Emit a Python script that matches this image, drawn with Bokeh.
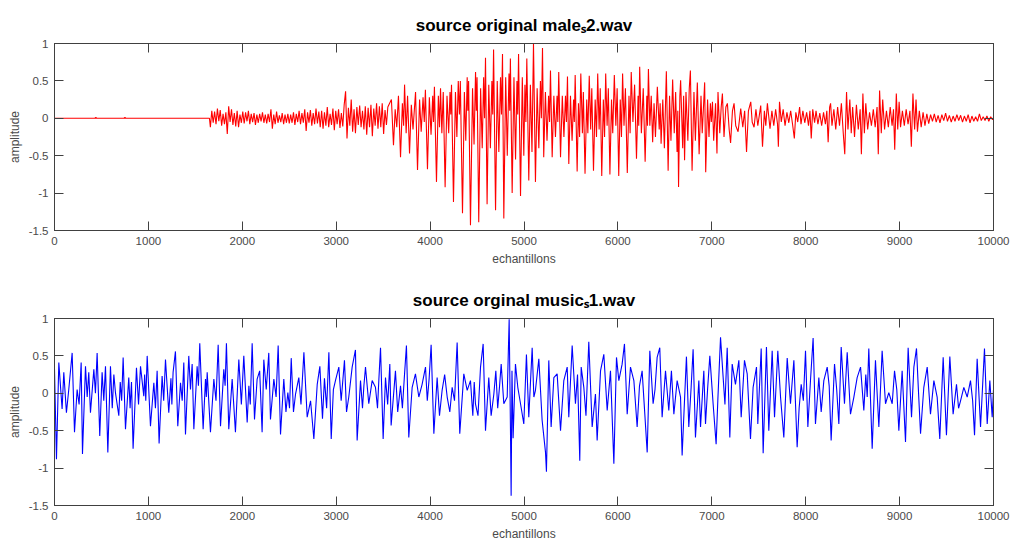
from bokeh.plotting import figure
from bokeh.models import Range1d, LinearAxis, FixedTicker
from bokeh.layouts import column
from bokeh.embed import file_html
from bokeh.resources import INLINE

# ---------------- data: male speech (top) ----------------
silence_x = [0, 430, 440, 450, 740, 750, 760, 1650]
silence_y = [0, 0, 0.01, 0, 0, 0.01, 0, 0]

# unvoiced background, one value every 15 samples from 1660 to 3550
noise_x = list(range(1660, 3551, 15))
noise_y = [-0.12, 0.10, -0.06, 0.09, -0.08, 0.13, -0.04, 0.11, -0.10, 0.06,
           -0.08, 0.08, -0.21, 0.16, -0.05, 0.12, -0.09, 0.07, -0.11, 0.10,
           -0.12, 0.05, -0.06, 0.09, -0.07, 0.08, -0.04, 0.10, -0.08, 0.06,
           -0.05, 0.07, -0.09, 0.05, -0.06, 0.06, -0.04, 0.08, -0.06, 0.05,
           -0.07, 0.06, -0.05, 0.12, -0.14, 0.05, -0.08, 0.09, -0.06, 0.04,
           -0.05, 0.07, -0.08, 0.05, -0.06, 0.06, -0.07, 0.05, -0.06, 0.08,
           -0.09, 0.06, -0.05, 0.10, -0.08, 0.07, -0.06, 0.12, -0.17, 0.08,
           -0.06, 0.11, -0.10, 0.07, -0.08, 0.13, -0.07, 0.09, -0.12, 0.10,
           -0.14, 0.08, -0.10, 0.15, -0.12, 0.06, -0.09, 0.13, -0.16, 0.10,
           -0.08, 0.12, -0.13, 0.07, -0.11, 0.18, 0.36, -0.27, 0.14, -0.10,
           0.25, -0.18, 0.12, -0.20, 0.15, -0.09, 0.17, -0.12, 0.10, -0.15,
           0.16, -0.22, 0.14, -0.12, 0.18, -0.24, 0.13, -0.10, 0.20, -0.14,
           0.16, -0.12, 0.20, -0.21, 0.11, -0.09, 0.15]

voiced_x = [3588, 3610, 3628, 3645, 3663, 3685, 3705, 3718, 3728, 3745,
            3760, 3781, 3800, 3818, 3845, 3866, 3888, 3905, 3925, 3938,
            3950, 3972, 3992, 4010, 4028, 4036, 4046, 4068, 4088, 4100,
            4111, 4125, 4140, 4160, 4180, 4198, 4212, 4220, 4228, 4249,
            4270, 4285, 4300, 4312, 4322, 4345, 4365, 4380, 4395, 4402,
            4410, 4430, 4452, 4468, 4484, 4492, 4500, 4518, 4538, 4555,
            4570, 4580, 4590, 4607, 4625, 4642, 4658, 4667, 4676, 4697,
            4715, 4732, 4750, 4760, 4771, 4785, 4805, 4822, 4840, 4848,
            4855, 4874, 4893, 4910, 4925, 4933, 4942, 4963, 4982, 4998,
            5010, 5020, 5030, 5051, 5068, 5085, 5101, 5122, 5140, 5158,
            5175, 5185, 5197, 5210, 5228, 5245, 5262, 5272, 5282, 5300,
            5318, 5335, 5352, 5360, 5370, 5389, 5408, 5425, 5442, 5452,
            5463, 5477, 5495, 5512, 5528, 5536, 5545, 5566, 5580, 5592,
            5605, 5622, 5632, 5650, 5668, 5680, 5695, 5710, 5722, 5740,
            5758, 5772, 5785, 5800, 5812, 5828, 5845, 5858, 5870, 5885,
            5898, 5915, 5932, 5945, 5962, 5978, 5992, 6009, 6025, 6038,
            6050, 6065, 6080, 6100, 6118, 6130, 6142, 6160, 6178, 6198,
            6215, 6222, 6232, 6250, 6270, 6290, 6308, 6315, 6325, 6340,
            6355, 6370, 6385, 6400, 6420, 6440, 6450, 6460, 6478, 6495,
            6516, 6535, 6550, 6565, 6583, 6600, 6615, 6630, 6638, 6646,
            6660, 6668, 6690, 6700, 6710, 6725, 6745, 6760, 6772, 6790,
            6810, 6825, 6846, 6865, 6885, 6898, 6924, 6935, 6955, 6970,
            6985, 6995, 7007, 7020, 7040, 7055, 7066, 7085, 7100, 7113,
            7130, 7150, 7166, 7185, 7200, 7220, 7237, 7255, 7280, 7308,
            7330, 7350, 7370, 7390, 7415, 7430, 7450, 7470, 7490, 7521,
            7540, 7560, 7575, 7592, 7620, 7640, 7660, 7680, 7700, 7709]
voiced_y = [0.25, -0.36, 0.12, -0.12, 0.30, -0.52, 0.20, -0.10, 0.45, -0.20,
            0.30, -0.47, 0.18, -0.15, 0.35, -0.69, 0.25, -0.18, 0.28, -0.05,
            0.38, -0.68, 0.28, -0.22, 0.30, -0.05, 0.42, -0.85, 0.30, -0.12,
            0.40, -0.20, 0.35, -0.92, 0.30, -0.20, 0.35, 0.05, 0.45, -1.12,
            0.35, -0.25, 0.50, 0.05, 0.50, -1.27, 0.35, -0.30, 0.55, 0.10,
            0.50, -1.43, 0.40, -0.35, 0.62, 0.10, 0.55, -1.39, 0.40, -0.40,
            0.55, 0.00, 0.81, -1.15, 0.45, -0.40, 0.50, 0.05, 0.92, -1.23,
            0.50, -0.45, 0.55, 0.05, 0.86, -1.34, 0.55, -0.50, 0.60, 0.10,
            0.80, -1.00, 0.55, -0.55, 0.50, 0.05, 0.86, -1.04, 0.55, -0.50,
            0.45, -0.05, 0.80, -0.83, 0.45, -0.45, 1.00, -0.85, 0.40, -0.40,
            0.50, 0.00, 0.94, -0.52, 0.35, -0.30, 0.30, -0.05, 0.64, -0.52,
            0.30, -0.25, 0.30, -0.05, 0.62, -0.52, 0.30, -0.25, 0.30, -0.05,
            0.56, -0.61, 0.30, -0.30, 0.25, -0.05, 0.58, -0.71, 0.20, -0.25,
            0.60, -0.20, 0.35, -0.74, 0.25, -0.20, 0.57, -0.15, 0.40, -0.70,
            0.25, -0.25, 0.60, -0.15, 0.40, -0.77, 0.25, -0.25, 0.60, -0.10,
            0.40, -0.75, 0.25, -0.20, 0.58, -0.10, 0.40, -0.77, 0.25, -0.25,
            0.60, -0.10, 0.40, -0.73, 0.30, -0.20, 0.62, -0.05, 0.45, -0.54,
            0.30, -0.10, 0.69, -0.20, 0.40, -0.58, 0.30, -0.10, 0.66, -0.10,
            0.30, -0.32, 0.20, -0.25, 0.42, -0.15, 0.20, -0.34, 0.25, -0.40,
            0.63, -0.70, 0.30, -0.30, 0.52, -0.20, 0.35, -0.45, 0.10, -0.92,
            0.30, 0.51, -0.40, 0.30, -0.56, 0.35, -0.30, 0.40, 0.64, -0.70,
            0.35, -0.30, 0.48, -0.48, 0.30, -0.20, 0.48, -0.72, 0.25, -0.25,
            0.20, -0.05, 0.22, -0.30, 0.20, -0.47, 0.35, -0.20, 0.15, 0.33,
            -0.25, 0.15, 0.20, -0.15, -0.33, 0.10, 0.20, -0.10, -0.18, 0.13,
            -0.12, 0.10, -0.45, 0.10, 0.22, -0.05, -0.12, 0.12, -0.10, 0.17,
            -0.38, 0.10, -0.10, 0.20, -0.14, 0.10, -0.10, 0.12, -0.08, -0.38]

decay_x = [7721, 7740, 7760, 7780, 7800, 7820, 7840, 7860, 7879, 7895,
           7915, 7935, 7950, 7970, 7990, 8010, 8030, 8045, 8059, 8075,
           8095, 8110, 8130, 8150, 8170, 8190, 8210, 8225, 8239, 8255,
           8265, 8280, 8300, 8320, 8340, 8360, 8380, 8400, 8416, 8435,
           8450, 8470, 8485, 8500, 8520, 8540, 8560, 8580, 8593, 8609,
           8625, 8640, 8660, 8680, 8700, 8720, 8740, 8760, 8773, 8787,
           8805, 8820, 8840, 8860, 8880, 8900, 8920, 8935, 8948, 8965,
           8980, 8995, 9010, 9030, 9050, 9070, 9090, 9110, 9125, 9142,
           9160, 9175, 9190, 9210, 9230, 9250, 9270, 9290]
decay_y = [0.22, -0.05, 0.12, -0.10, 0.08, -0.06, 0.10, -0.08, -0.27, 0.08,
           -0.05, 0.15, -0.08, 0.10, -0.06, 0.08, -0.10, 0.10, -0.27, 0.12,
           -0.06, 0.10, -0.08, 0.07, -0.10, 0.08, -0.08, 0.10, -0.32, 0.15,
           0.20, -0.10, 0.12, -0.15, 0.15, -0.10, 0.20, -0.20, -0.48, 0.35,
           -0.15, 0.25, -0.20, 0.15, -0.25, 0.18, -0.15, 0.12, -0.48, 0.33,
           -0.20, 0.20, -0.15, 0.08, -0.10, 0.12, -0.12, 0.15, -0.48, 0.37,
           -0.20, 0.25, -0.15, 0.10, -0.12, 0.15, -0.10, 0.12, -0.42, 0.33,
           -0.15, 0.22, -0.12, 0.10, -0.10, 0.12, -0.08, 0.10, -0.38, 0.33,
           -0.15, 0.25, -0.18, 0.10, -0.12, 0.08, -0.10, 0.06]

tail_x = [9310, 9330, 9350, 9370, 9390, 9410, 9430, 9450, 9470, 9490,
          9510, 9530, 9550, 9570, 9590, 9610, 9630, 9650, 9670, 9690,
          9710, 9730, 9750, 9770, 9790, 9810, 9830, 9850, 9870, 9890,
          9910, 9930, 9950, 9970, 9990, 10000]
tail_y = [-0.07, 0.05, -0.04, 0.06, -0.05, 0.04, -0.06, 0.05, -0.03, 0.07,
          -0.04, 0.04, -0.05, 0.03, -0.04, 0.05, -0.03, 0.04, -0.05, 0.03,
          -0.04, 0.05, -0.06, 0.03, -0.04, 0.02, -0.04, 0.06, -0.03, 0.02,
          -0.03, 0.03, -0.04, 0.02, -0.02, 0.01]

# ---------------- data: music (bottom) ----------------
music_a_x = [0, 21, 46, 81, 99, 127, 152, 188, 213, 241,
             284, 298, 330, 365, 383, 419, 454, 482, 507, 543,
             568, 596, 649, 685, 731, 756, 791, 837, 873, 916,
             951, 987, 1022, 1058, 1093, 1114, 1146, 1182, 1217, 1263,
             1288, 1313, 1342, 1377, 1395, 1430, 1466, 1484, 1519, 1547,
             1583, 1608, 1626, 1661, 1697, 1743, 1768, 1803, 1831, 1856,
             1892, 1927, 1963, 2016, 2052, 2105, 2130, 2158, 2211, 2229,
             2282, 2300, 2336, 2382, 2407, 2442, 2485]
music_a_y = [0.32, -0.88, 0.41, -0.21, 0.28, -0.26, 0.05, 0.54, -0.52, 0.05,
             0.41, -0.81, 0.36, 0.28, -0.26, 0.32, 0.54, -0.57, 0.28, 0.36,
             -0.79, 0.36, 0.01, -0.30, 0.48, -0.48, 0.21, -0.74, 0.34, 0.36,
             -0.04, 0.50, -0.44, 0.14, 0.30, -0.67, 0.23, 0.45, -0.26, 0.28,
             0.56, -0.44, 0.14, 0.41, -0.55, 0.50, 0.39, -0.48, 0.36, 0.67,
             -0.48, 0.19, 0.28, -0.52, 0.19, 0.65, -0.44, 0.32, 0.67, -0.48,
             0.19, -0.52, 0.45, 0.50, -0.39, 0.67, -0.35, 0.19, -0.52, 0.45,
             0.54, -0.35, 0.19, 0.64, -0.55, 0.19, 0.01]

music_b_x = [2521, 2567, 2602, 2656, 2691, 2727, 2762, 2798, 2826, 2854,
             2922, 2947, 2992, 3028, 3053, 3088, 3134, 3170, 3205, 3223,
             3259, 3312, 3347, 3383, 3418, 3472, 3500, 3525, 3571, 3585,
             3631, 3685, 3748, 3773, 3809, 3844, 3880, 3915, 3951, 4011,
             4040, 4075, 4128, 4182, 4235, 4288, 4316, 4359, 4395, 4430,
             4483, 4537, 4565, 4590, 4625, 4679, 4757, 4785, 4821, 4842,
             4856, 4863, 4872, 4884, 4909, 4934, 4963, 4998, 5026, 5051,
             5087, 5105, 5122, 5158, 5193, 5229, 5239, 5264, 5289, 5318,
             5353, 5389, 5424, 5460, 5477, 5513, 5548, 5594, 5609, 5637,
             5690, 5726, 5761, 5779, 5815, 5850, 5886, 5921, 5957, 5985,
             6010, 6045, 6070, 6099, 6134, 6170, 6205, 6258, 6312, 6340,
             6375, 6418, 6446, 6471, 6507, 6542]
music_b_y = [0.47, -0.01, 0.21, 0.55, -0.32, -0.10, -0.61, 0.12, 0.36, -0.34,
             0.55, -0.61, 0.17, 0.35, -0.10, 0.44, -0.05, 0.35, 0.58, -0.63,
             0.17, 0.35, -0.14, 0.17, 0.08, 0.61, -0.61, 0.21, 0.39, -0.43,
             0.30, 0.10, 0.64, -0.59, 0.08, 0.26, -0.05, 0.12, 0.35, 0.65,
             -0.54, 0.21, 0.04, -0.05, 0.08, 0.68, -0.54, 0.26, 0.04, 0.17,
             -0.14, 0.35, 0.66, -0.50, 0.21, -0.01, 0.39, -0.14, -0.05, 0.99,
             -0.50, -1.37, 0.30, -0.60, 0.39, 0.08, -0.14, -0.41, 0.52, -0.32,
             0.61, -0.05, 0.04, 0.46, -0.36, -0.79, -1.05, 0.44, -0.45, 0.21,
             0.26, -0.50, 0.17, 0.35, -0.32, 0.64, -0.14, -0.90, 0.35, 0.08,
             0.69, -0.45, -0.01, -0.63, 0.30, 0.52, -0.23, 0.30, -0.94, 0.48,
             0.17, 0.39, 0.66, -0.28, 0.35, 0.17, -0.45, 0.30, -0.79, 0.57,
             -0.14, 0.48, 0.61, -0.32, 0.30, -0.23]

music_c_x = [6596, 6631, 6667, 6684, 6720, 6730, 6755, 6780, 6801, 6826,
             6862, 6880, 6915, 6933, 6979, 7014, 7046, 7064, 7093, 7121,
             7164, 7192, 7217, 7252, 7288, 7313, 7348, 7377, 7412, 7440,
             7476, 7490, 7526, 7547, 7582, 7607, 7643, 7668, 7703, 7732,
             7767, 7803, 7838, 7874, 7909, 7952, 7998, 8023, 8051, 8079,
             8104, 8140, 8193, 8229, 8271, 8307, 8353, 8378, 8413, 8442,
             8477, 8513, 8548, 8584, 8619, 8672, 8708, 8743, 8779, 8814,
             8850, 8885, 8921, 8946, 8992, 9027, 9063, 9091, 9127, 9152,
             9180, 9223, 9258, 9294, 9329, 9365, 9400, 9428, 9464, 9499,
             9535, 9570, 9606, 9649, 9684, 9720, 9755, 9798, 9826, 9862,
             9904, 9933, 9961, 9986, 10000]
music_c_y = [-0.28, 0.17, -0.05, -0.83, 0.21, 0.49, -0.45, 0.08, 0.59, -0.59,
             0.17, -0.45, 0.30, -0.41, 0.50, -0.14, -0.68, -0.10, 0.75, 0.21,
             0.61, -0.59, 0.39, 0.12, 0.44, -0.32, 0.44, 0.26, -0.61, 0.08,
             0.35, -0.41, 0.60, -0.80, 0.62, -0.50, 0.57, -0.32, 0.57, -0.05,
             -0.59, 0.47, -0.14, 0.44, -0.72, 0.12, 0.57, -0.45, 0.17, 0.74,
             -0.41, 0.21, 0.17, 0.35, -0.63, 0.39, -0.41, 0.62, -0.14, 0.55,
             -0.28, -0.05, 0.21, 0.35, -0.23, 0.60, -0.74, 0.44, -0.45, 0.57,
             -0.14, 0.01, -0.14, 0.30, -0.50, 0.30, -0.65, 0.61, -0.32, 0.35,
             0.60, -0.54, 0.08, 0.35, -0.28, 0.17, -0.05, -0.61, 0.48, -0.56,
             0.49, -0.28, 0.12, -0.10, 0.08, -0.05, 0.17, -0.56, 0.46, -0.45,
             0.60, -0.41, 0.17, -0.32, 0.05]

# smaller wiggles seen between the larger swings of the music signal
music_fine_x = [262, 348, 436, 525, 615, 632, 700, 715, 805, 820,
                895, 960, 972, 1075, 1163, 1240, 1250, 1360, 1448, 1533,
                1617, 1720, 1817, 1990, 2070, 2085, 2185, 2255, 2360, 2465,
                2503, 2545, 2625, 2875, 2898, 2970, 3110, 3280, 3295, 3440,
                3455, 3548, 3655, 3705, 3725, 3970, 3990, 4100, 4155, 4210,
                4260, 4455, 4470, 4510, 4650, 4700, 4720, 4740, 5570, 5660,
                6230, 6395, 6570, 6955, 7140, 7930, 7975, 8165, 8250, 8330,
                8640, 8655, 8970, 9200, 9628, 9778, 9882]
music_fine_y = [-0.15, -0.05, 0.00, -0.10, -0.20, 0.25, 0.15, -0.10, -0.20, 0.15,
                -0.15, 0.25, -0.10, -0.20, -0.10, 0.20, -0.15, -0.10, 0.05, 0.10,
                -0.05, -0.10, 0.10, -0.15, 0.10, -0.15, 0.30, 0.05, -0.05, -0.25,
                -0.20, -0.25, -0.15, 0.20, -0.20, 0.05, -0.25, -0.20, 0.10, -0.20,
                0.20, -0.15, -0.25, -0.20, 0.20, -0.10, 0.20, -0.30, 0.25, -0.25,
                -0.10, -0.30, 0.15, -0.30, -0.30, 0.30, -0.20, 0.10, 0.25, -0.30,
                0.10, 0.05, 0.30, 0.05, -0.15, -0.20, -0.10, -0.25, 0.10, 0.05,
                0.25, -0.05, 0.05, 0.05, -0.20, -0.10, 0.05]

x_ticks = [0, 1000, 2000, 3000, 4000, 5000, 6000, 7000, 8000, 9000, 10000]
y_ticks = [-1.5, -1, -0.5, 0, 0.5, 1]
y_tick_labels = ["-1.5", "-1", "-0.5", "0", "0.5", "1"]
top_title = "source original male\u209b2.wav"
bottom_title = "source orginal music\u209b1.wav"

for (a, b) in [(silence_x, silence_y), (noise_x, noise_y), (voiced_x, voiced_y),
               (decay_x, decay_y), (tail_x, tail_y), (music_a_x, music_a_y),
               (music_b_x, music_b_y), (music_c_x, music_c_y),
               (music_fine_x, music_fine_y)]:
    assert len(a) == len(b), (len(a), len(b))

male_x = silence_x + noise_x + voiced_x + decay_x + tail_x
male_y = silence_y + noise_y + voiced_y + decay_y + tail_y
music_pairs = sorted(zip(music_a_x + music_b_x + music_c_x + music_fine_x,
                         music_a_y + music_b_y + music_c_y + music_fine_y))
music_x = [p[0] for p in music_pairs]
music_y = [p[1] for p in music_pairs]

FONT = "Liberation Sans"
AX = "#404040"
TXT = "#4a4a4a"


def style_axis(ax, ticks, show_labels, overrides=None):
    ax.ticker = FixedTicker(ticks=ticks, minor_ticks=[])
    ax.axis_line_color = AX
    ax.major_tick_line_color = AX
    ax.major_tick_in = 9
    ax.major_tick_out = 0
    ax.minor_tick_in = 0
    ax.minor_tick_out = 0
    ax.major_label_text_font = FONT
    ax.major_label_text_color = TXT
    ax.major_label_standoff = 6
    if show_labels:
        ax.major_label_text_font_size = "11.5px"
        if overrides:
            ax.major_label_overrides = overrides
    else:
        ax.major_label_text_font_size = "0px"
        ax.major_label_text_color = None
        ax.major_label_standoff = 0
    ax.axis_label_text_font = FONT
    ax.axis_label_text_font_size = "12px"
    ax.axis_label_text_font_style = "normal"
    ax.axis_label_text_color = TXT
    ax.axis_label_standoff = 4


def make_panel(xs, ys, color, height, btop, bbottom, title):
    p = figure(width=1011, height=height, title=title,
               x_range=Range1d(0, 10000), y_range=Range1d(-1.5, 1),
               output_backend="svg", toolbar_location=None,
               min_border_left=54, min_border_right=18,
               min_border_top=btop, min_border_bottom=bbottom,
               x_axis_label="echantillons", y_axis_label="amplitude")
    p.line(xs, ys, line_color=color, line_width=1.1)
    p.xgrid.visible = False
    p.ygrid.visible = False
    p.outline_line_color = AX
    p.background_fill_color = "white"
    p.border_fill_color = "white"
    p.title.align = "center"
    p.title.text_font = "Liberation Sans"
    p.title.text_font_style = "bold"
    p.title.text_font_size = "17px"
    p.title.text_color = "black"
    p.title.standoff = 18
    overrides = {t: s for t, s in zip(y_ticks, y_tick_labels)}
    style_axis(p.below[0], x_ticks, True)
    style_axis(p.left[0], y_ticks, True, overrides)
    top_ax = LinearAxis()
    style_axis(top_ax, x_ticks, False)
    right_ax = LinearAxis()
    style_axis(right_ax, y_ticks, False)
    p.add_layout(top_ax, "above")
    p.add_layout(right_ax, "right")
    return p


top = make_panel(male_x, male_y, "#ff0000", 272, 43, 42, top_title)
bottom = make_panel(music_x, music_y, "#0000ff", 273, 46, 40, bottom_title)

layout = column(top, bottom, spacing=0)
open("out.html", "w").write(file_html(layout, INLINE))
